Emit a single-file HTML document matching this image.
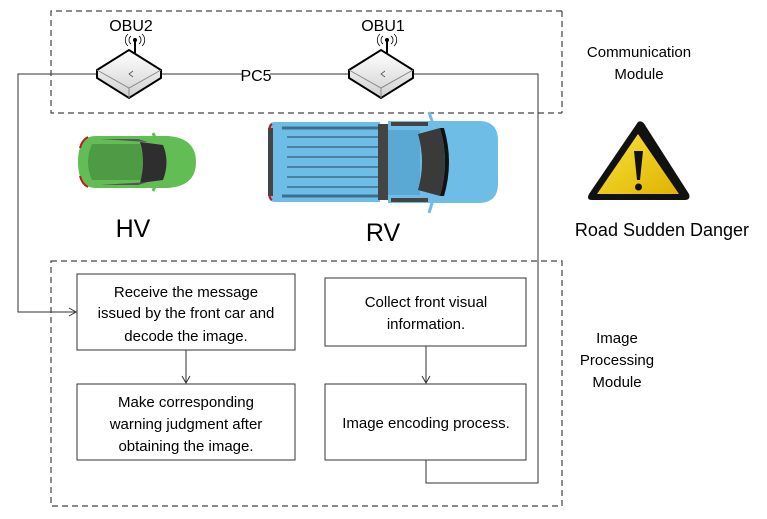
<!DOCTYPE html>
<html><head><meta charset="utf-8"><style>
html,body{margin:0;padding:0;background:#fff;}
svg{display:block;}
text{font-family:"Liberation Sans",sans-serif;fill:#000;}
</style></head><body>
<svg width="767" height="519" viewBox="0 0 767 519" xmlns="http://www.w3.org/2000/svg">
<defs>
<marker id="ar" markerWidth="10" markerHeight="10" refX="8" refY="5" orient="auto" markerUnits="userSpaceOnUse">
<path d="M1,1 L8,5 L1,9" fill="none" stroke="#333" stroke-width="1"/></marker>
<linearGradient id="yel" x1="0" y1="0" x2="1" y2="1"><stop offset="0" stop-color="#f7e23a"/><stop offset="1" stop-color="#e0b300"/></linearGradient>
<linearGradient id="obu" x1="0" y1="0" x2="0" y2="1"><stop offset="0" stop-color="#fff"/><stop offset="1" stop-color="#d0d0d0"/></linearGradient>
</defs>
<!-- dashed modules -->
<path d="M562,11 H51 V113 H562" fill="none" stroke="#444" stroke-width="1.2" stroke-dasharray="6,4"/>
<line x1="562" y1="11" x2="562" y2="113" stroke="#444" stroke-width="1.2" stroke-dasharray="6,4"/>
<rect x="51" y="261" width="511" height="245" fill="none" stroke="#444" stroke-width="1.2" stroke-dasharray="6,4"/>
<!-- connectors -->
<polyline points="426,460 426,483 538,483 538,74 18,74 18,312 76,312" fill="none" stroke="#333" stroke-width="1" marker-end="url(#ar)"/>
<line x1="186" y1="350" x2="186" y2="383" stroke="#333" marker-end="url(#ar)"/>
<line x1="426" y1="346" x2="426" y2="383" stroke="#333" marker-end="url(#ar)"/>
<!-- PC5 label -->
<rect x="242" y="64" width="28" height="20" fill="#fff"/>
<text x="256" y="81" font-size="16" text-anchor="middle">PC5</text>
<!-- OBUs -->
<g id="o2">
<line x1="135" y1="40" x2="135" y2="53" stroke="#000" stroke-width="2"/>
<circle cx="135" cy="40" r="2" fill="#000"/>
<path d="M131,36 a5,5 0 0 0 0,8 M139,36 a5,5 0 0 1 0,8 M128,34 a8,8 0 0 0 0,12 M142,34 a8,8 0 0 1 0,12" fill="none" stroke="#000" stroke-width="0.8"/>
<path d="M97,70 L129,50 L161,70 L161,78 L129,98 L97,78 Z" fill="url(#obu)" stroke="#000" stroke-width="2"/>
<path d="M97,70 L129,88 L161,70 M129,88 V98" fill="none" stroke="#888" stroke-width="1"/>
<path d="M133,71 l-4,3 l4,3" fill="none" stroke="#555" stroke-width="0.8"/>
</g>
<use href="#o2" transform="translate(252,0)"/>
<text x="131" y="31" font-size="16" text-anchor="middle">OBU2</text>
<text x="383" y="31" font-size="16" text-anchor="middle">OBU1</text>
<!-- green car -->
<g>
<path d="M96,136 H168 Q196,138 196,162 Q196,186 168,188 H96 Q78,188 78,162 Q78,136 96,136 Z" fill="#63bd55"/>
<path d="M92,144 H140 L148,180 H92 Q84,162 92,144 Z" fill="#4f9a45"/>
<path d="M140,142 L163,145 Q170,162 163,180 L140,183 Q146,162 140,142 Z" fill="#2e2e2e"/>
<path d="M100,139 L138,139 L148,142 Z M100,185 L138,185 L148,182 Z" fill="#555"/>
<path d="M80,148 Q82,140 88,137 M80,176 Q82,184 88,187" stroke="#c01a1a" stroke-width="2" fill="none"/>
<path d="M153,133 L156,140 M153,191 L156,184" stroke="#63bd55" stroke-width="3"/>
</g>
<!-- blue truck -->
<g>
<path d="M275,122 H380 V202 H275 Q268,202 268,194 V130 Q268,122 275,122 Z" fill="#6dbde6"/>
<rect x="268" y="128" width="5" height="68" fill="#444"/>
<path d="M287,137 H378 M287,147 H378 M287,157 H378 M287,167 H378 M287,177 H378 M287,187 H378" stroke="#3e6f8f" stroke-width="1.5"/>
<path d="M282,128 H378 M282,196 H378" stroke="#3e6f8f" stroke-width="3"/>
<rect x="378" y="124" width="10" height="76" fill="#444"/>
<path d="M388,121 H480 Q498,122 498,140 V184 Q498,202 480,203 H388 Z" fill="#6dbde6"/>
<path d="M388,130 H420 V195 H388 Z" fill="#5aa8d4"/>
<path d="M418,134 L440,128 Q450,162 440,196 L418,190 Q426,162 418,134 Z" fill="#3a3a3a"/>
<path d="M440,128 L444,128 Q454,162 444,196 L440,196 Q450,162 440,128 Z" fill="#111"/>
<path d="M391,124 H428 M391,200 H428" stroke="#444" stroke-width="4"/>
<path d="M429,112 L433,124 M429,213 L433,200" stroke="#6dbde6" stroke-width="3"/>
<path d="M272,124 Q269,126 270,130 M272,200 Q269,198 270,194" stroke="#c01a1a" stroke-width="2" fill="none"/>
</g>
<text x="133" y="237" font-size="25" text-anchor="middle">HV</text>
<text x="383" y="241" font-size="25" text-anchor="middle">RV</text>
<!-- warning -->
<path d="M638,122 Q642,120 645,125 L689,194 Q691,200 685,200 H592 Q586,200 589,194 Z" fill="#111"/>
<path d="M638,134 L679,194 H597 Z" fill="url(#yel)"/>
<path d="M634,151 H643 L640,180 H637 Z" fill="#111"/>
<circle cx="638.5" cy="187" r="3.5" fill="#111"/>
<text x="662" y="236" font-size="18" text-anchor="middle">Road Sudden Danger</text>
<text x="639" y="57" font-size="15" text-anchor="middle">Communication</text>
<text x="639" y="79" font-size="15" text-anchor="middle">Module</text>
<text x="617" y="343" font-size="15" text-anchor="middle">Image</text>
<text x="617" y="365" font-size="15" text-anchor="middle">Processing</text>
<text x="617" y="387" font-size="15" text-anchor="middle">Module</text>
<!-- boxes -->
<g fill="#fff" stroke="#333" stroke-width="1">
<rect x="77" y="274" width="218" height="76"/>
<rect x="77" y="384" width="218" height="76"/>
<rect x="325" y="278" width="201" height="68"/>
<rect x="325" y="384" width="201" height="76"/>
</g>
<g font-size="15" text-anchor="middle">
<text x="186" y="297">Receive the message</text>
<text x="186" y="318">issued by the front car and</text>
<text x="186" y="341">decode the image.</text>
<text x="186" y="407">Make corresponding</text>
<text x="186" y="429">warning judgment after</text>
<text x="186" y="451">obtaining the image.</text>
<text x="426" y="307">Collect front visual</text>
<text x="426" y="329">information.</text>
<text x="426" y="428">Image encoding process.</text>
</g>
</svg>
</body></html>
